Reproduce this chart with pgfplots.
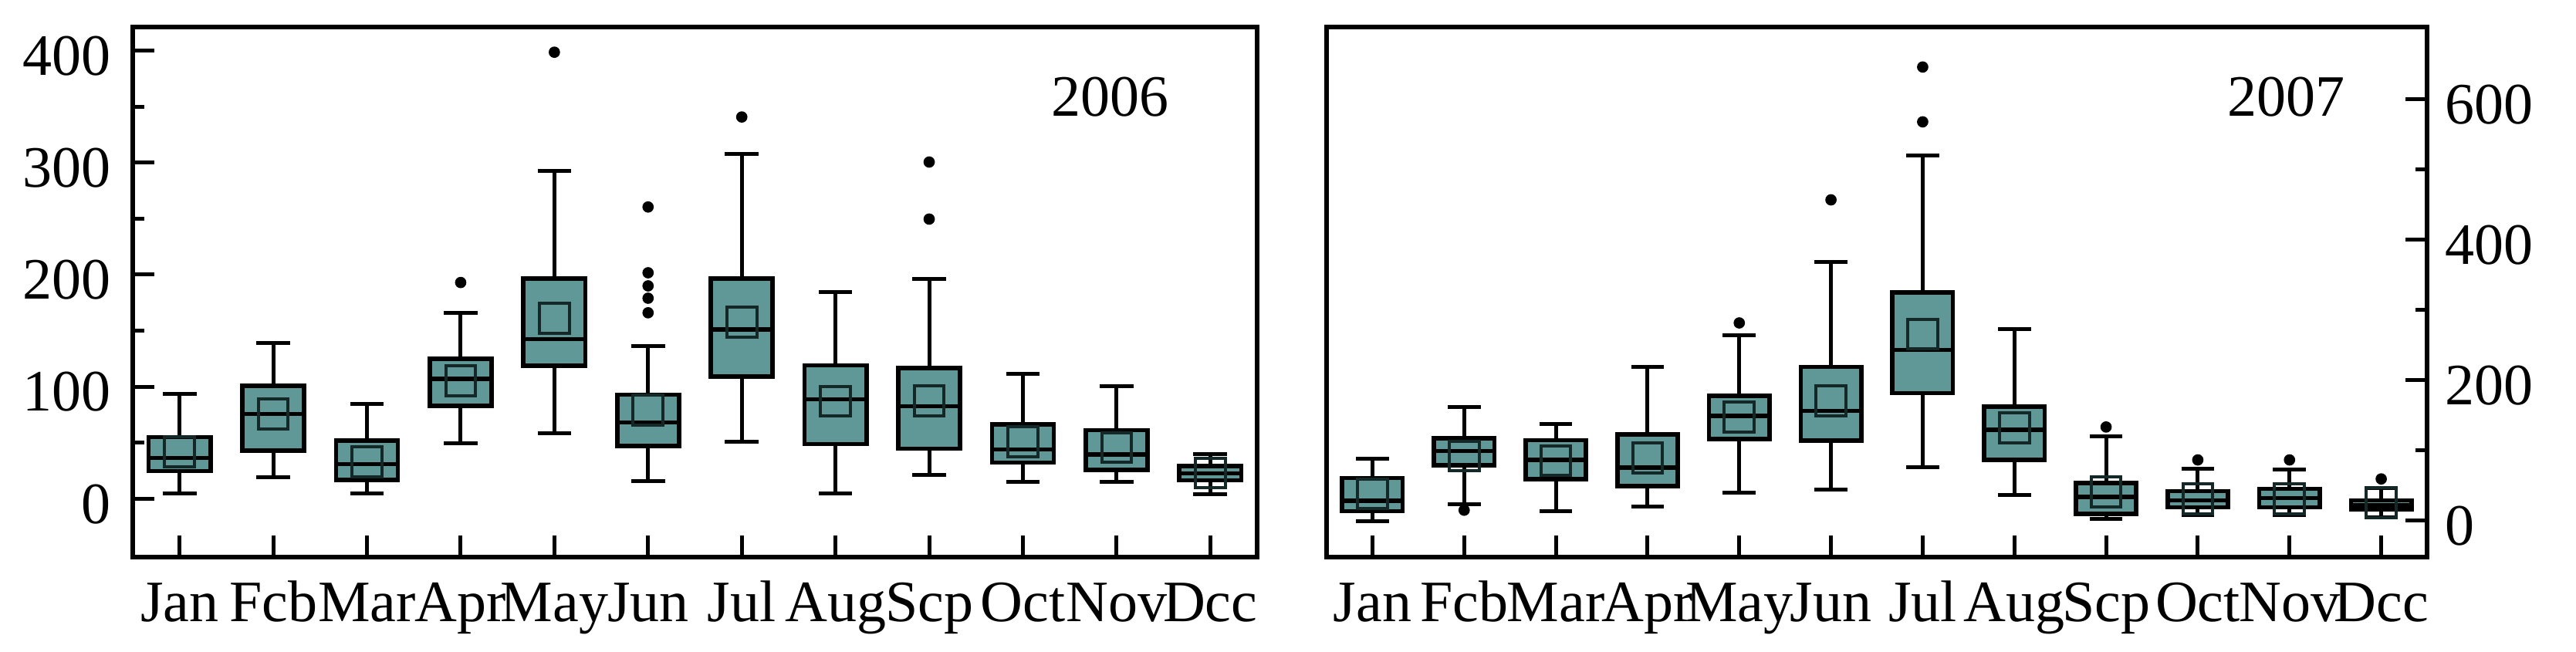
\documentclass[border=0pt]{standalone}
\usepackage{fontspec}
\setmainfont{Liberation Serif}
\usepackage{pgfplots}
\pgfplotsset{compat=1.18}
\usepgfplotslibrary{statistics}
\definecolor{boxteal}{RGB}{96,152,152}
\definecolor{meanc}{RGB}{20,40,40}

\pgfplotsset{
  panel/.style={
    scale only axis,
    height=103.05pt,
    xmin=0.5, xmax=12.5,
    xtick={1,2,3,4,5,6,7,8,9,10,11,12},
    xticklabels={Jan,Fcb,Mar,Apr,May,Jun,Jul,Aug,Scp,Oct,Nov,Dcc},
    tick align=inside,
    xtick pos=lower,
    major tick length=4.2pt,
    minor tick length=2.2pt,
    every tick/.style={line width=0.75pt, black},
    axis line style={line width=0.8pt},
    ticklabel style={font=\fontsize{11.4}{13}\selectfont},
    /pgf/number format/assume math mode=true,
    xticklabel style={anchor=base, yshift=-12.6pt},
    yticklabel style={yshift=-1pt},
    boxplot/draw direction=y,
    boxplot/box extend=0.66,
    boxplot/whisker extend=0.36,
    boxplot/every box/.style={fill=boxteal, draw=black, line width=0.85pt},
    boxplot/every whisker/.style={draw=black, line width=0.75pt},
    boxplot/every median/.style={draw=black, line width=0.8pt},
    clip=false,
  },
  bx/.style={draw=black, mark=none, solid},
  outl/.style={only marks, mark=*, mark size=0.9pt, black},
  meansq/.style={only marks, mark=square, mark size=2.9pt, mark options={draw=meanc, line width=0.6pt}},
}

\newcommand{\bx}[6]{\addplot[bx, boxplot prepared={draw position=#1, lower whisker=#2, lower quartile=#3, median=#4, upper quartile=#5, upper whisker=#6}] coordinates {};}

\begin{document}
\begin{tikzpicture}
\path (0,0) rectangle (500.7pt,126.45pt);

% ---------------- 2006 ----------------
\begin{axis}[panel,
  at={(25.8pt,18.15pt)}, anchor=south west,
  width=218.55pt,
  ymin=-52, ymax=421,
  ytick={0,100,200,300,400},
  minor ytick={50,150,250,350},
  ytick pos=left,
  yticklabel style={xshift=-0.8pt},
]
\bx{1}{4.6}{24.7}{36.4}{55}{93.6}
\bx{2}{19.5}{43.2}{75.7}{100.7}{139}
\bx{3}{4.6}{17}{31}{52}{85}
\bx{4}{49.4}{83}{107}{125}{166}
\bx{5}{58.7}{118.9}{142.4}{196.4}{292.8}
\bx{6}{15.8}{47}{68}{93}{136}
\bx{7}{51}{109}{151}{196.4}{308}
\bx{8}{4.6}{48.8}{89}{119}{184.7}
\bx{9}{21.6}{44.8}{82.8}{116.8}{196.4}
\bx{10}{14.8}{32.4}{44.2}{66.4}{111.5}
\bx{11}{14.8}{25.6}{39.5}{61.2}{100.4}
\bx{12}{4}{16.4}{22.5}{29.3}{40}
\addplot[meansq] table {
x y
1 42
2 75.5
3 33
4 105.5
5 161
6 79
7 157.5
8 87
9 87.4
10 51
11 45.7
12 23
};
\addplot[outl] table {
x y
4 193
5 398.5
6 260.4
6 201.7
6 190
6 179
6 166
7 340.7
9 300.5
9 249.6
};
\node[font=\fontsize{11.4}{13}\selectfont] at (rel axis cs:0.869,0.868) {2006};
\end{axis}

% ---------------- 2007 ----------------
\begin{axis}[panel,
  at={(257.85pt,18.15pt)}, anchor=south west,
  width=213.9pt,
  ymin=-52, ymax=703,
  ytick={0,200,400,600},
  minor ytick={100,300,500},
  ytick pos=right,
  yticklabel pos=right,
]
\bx{1}{-1}{13.3}{28.1}{60.7}{87.9}
\bx{2}{23.7}{79}{98.8}{117}{161.5}
\bx{3}{13.3}{59.3}{86.4}{114.6}{137.3}
\bx{4}{19.8}{49.4}{75.6}{122.5}{218.8}
\bx{5}{39.5}{116}{149.1}{177.8}{264.2}
\bx{6}{44.4}{113.6}{156.5}{218.8}{368.9}
\bx{7}{76.5}{181.7}{243}{325}{519.5}
\bx{8}{37}{86.4}{129.4}{162}{273}
\bx{9}{2.5}{9.9}{33.6}{53.3}{119.5}
\bx{10}{7.4}{18.8}{28.6}{42}{74}
\bx{11}{7.4}{18.8}{32}{45.4}{73}
\bx{12}{4.9}{16.3}{22.2}{28.6}{46}
\addplot[meansq] table {
x y
1 38
2 91.9
3 85.4
4 89.4
5 147.7
6 170.4
7 265.7
8 131.9
9 40.5
10 31
11 31
12 25.7
};
\addplot[outl] table {
x y
2 14.8
5 281.5
6 456.8
7 646
7 567.9
9 133.3
10 86.4
11 86.4
12 59.3
};
\node[font=\fontsize{11.4}{13}\selectfont] at (rel axis cs:0.872,0.868) {2007};
\end{axis}
\end{tikzpicture}
\end{document}
